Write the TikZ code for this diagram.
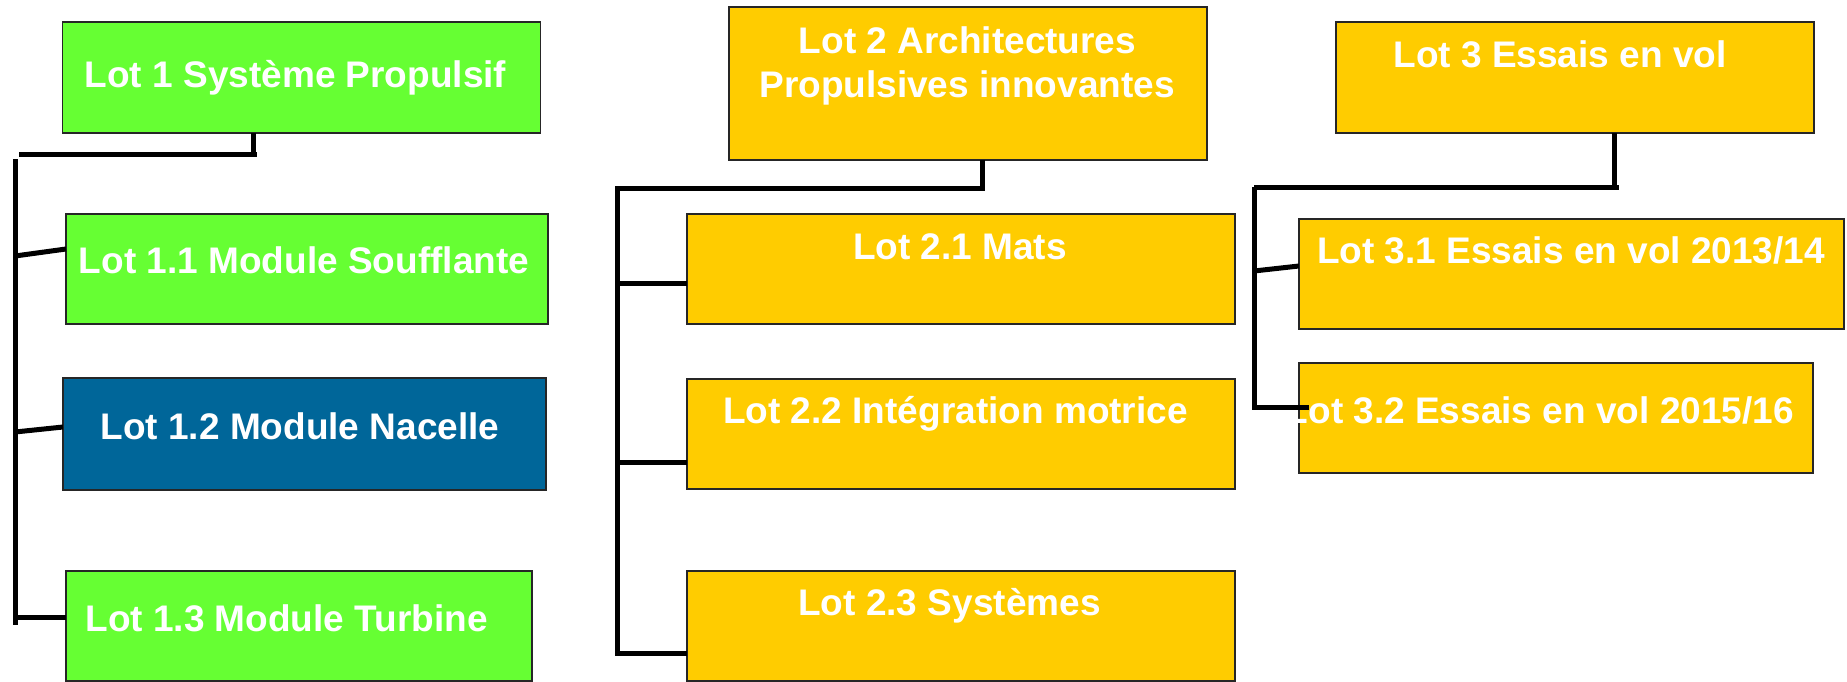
\documentclass[tikz,border=0pt]{standalone}
\usepackage{fontspec}
\setmainfont{Liberation Sans}
\definecolor{lgreen}{HTML}{66FF33}
\definecolor{lblue}{HTML}{006699}
\definecolor{lgold}{HTML}{FFCC00}
\begin{document}
\begin{tikzpicture}[x=1pt,y=-1pt,
  box/.style={rectangle, draw=black!85, line width=1.3pt, inner sep=0pt, outer sep=0pt},
  txt/.style={text=white, font=\fontsize{37}{44}\selectfont\bfseries, inner sep=0pt, anchor=base},
  conn/.style={draw=black, line width=5pt, line join=miter}]
\useasboundingbox (0,0) rectangle (1847,681);
% ---- boxes
\node[box, fill=lgreen, minimum width=478pt, minimum height=111pt] (l1) at (301.5,77.5) {};
\node[box, fill=lgreen, minimum width=482pt, minimum height=110pt] (l11) at (307,269) {};
\node[box, fill=lblue, minimum width=483pt, minimum height=112pt] (l12) at (304.5,434) {};
\node[box, fill=lgreen, minimum width=466pt, minimum height=110pt] (l13) at (299,626) {};
\node[box, fill=lgold, minimum width=478pt, minimum height=153pt] (l2) at (968,83.5) {};
\node[box, fill=lgold, minimum width=548pt, minimum height=110pt] (l21) at (961,269) {};
\node[box, fill=lgold, minimum width=548pt, minimum height=110pt] (l22) at (961,434) {};
\node[box, fill=lgold, minimum width=548pt, minimum height=110pt] (l23) at (961,626) {};
\node[box, fill=lgold, minimum width=478pt, minimum height=111pt] (l3) at (1575,77.5) {};
\node[box, fill=lgold, minimum width=545pt, minimum height=110pt] (l31) at (1571.5,274) {};
\node[box, fill=lgold, minimum width=514pt, minimum height=110pt] (l32) at (1556,418) {};
% ---- texts
\node[txt] (l1t) at (295.5,87) {Lot 1 Système Propulsif};
\node[txt] (l11t) at (304,273) {Lot 1.1 Module Soufflante};
\node[txt] (l12t) at (300,439) {Lot 1.2 Module Nacelle};
\node[txt] (l13t) at (286.5,631) {Lot 1.3 Module Turbine};
\node[txt] (l2ta) at (967.5,53) {Lot 2 Architectures};
\node[txt] (l2tb) at (967,97) {Propulsives innovantes};
\node[txt] (l21t) at (960,259) {Lot 2.1 Mats};
\node[txt] (l22t) at (955.5,423) {Lot 2.2 Intégration motrice};
\node[txt] (l23t) at (949.5,615) {Lot 2.3 Systèmes};
\node[txt] (l3t) at (1560,67) {Lot 3 Essais en vol};
\node[txt] (l31t) at (1571,263) {Lot 3.1 Essais en vol 2013/14};
\node[txt, anchor=base east] (l32t) at (1794,423) {Lot 3.2 Essais en vol 2015/16};
% ---- junction coordinates
\coordinate (j1) at (253,157);
\coordinate (h1a) at (19,154);
\coordinate (h1b) at (257,154);
\coordinate (t1a) at (15,159);
\coordinate (t1b) at (15,625);
\coordinate (j2) at (982,188);
\coordinate (t2a) at (617,188);
\coordinate (t2b) at (617,653);
\coordinate (j3) at (1614,187);
\coordinate (h3a) at (1254,187);
\coordinate (h3b) at (1619,187);
\coordinate (t3b) at (1254,407);
% ---- connectors, column 1
\draw[conn] (l1.south -| j1) -- (j1);
\draw[conn] (h1a) -- (h1b);
\draw[conn] (t1a) -- (t1b);
\draw[conn] (15,256) -- ([yshift=20pt]l11.west);
\draw[conn] (15,432) -- ([yshift=7pt]l12.west);
\draw[conn] (15,617) -- ([yshift=9pt]l13.west);
% ---- connectors, column 2
\draw[conn] (l2.south -| j2) -- (j2) -- (t2a) -- (t2b) -- (t2b -| l23.west);
\draw[conn] (617,283) -- ([yshift=-14pt]l21.west);
\draw[conn] (617,462) -- ([yshift=-28pt]l22.west);
% ---- connectors, column 3
\draw[conn] (l3.south -| j3) -- (j3);
\draw[conn] (h3a) -- (h3b);
\draw[conn] (h3a) -- (t3b) -- (1309,407);
\draw[conn] (1254,271) -- ([yshift=8pt]l31.west);
\end{tikzpicture}
\end{document}
